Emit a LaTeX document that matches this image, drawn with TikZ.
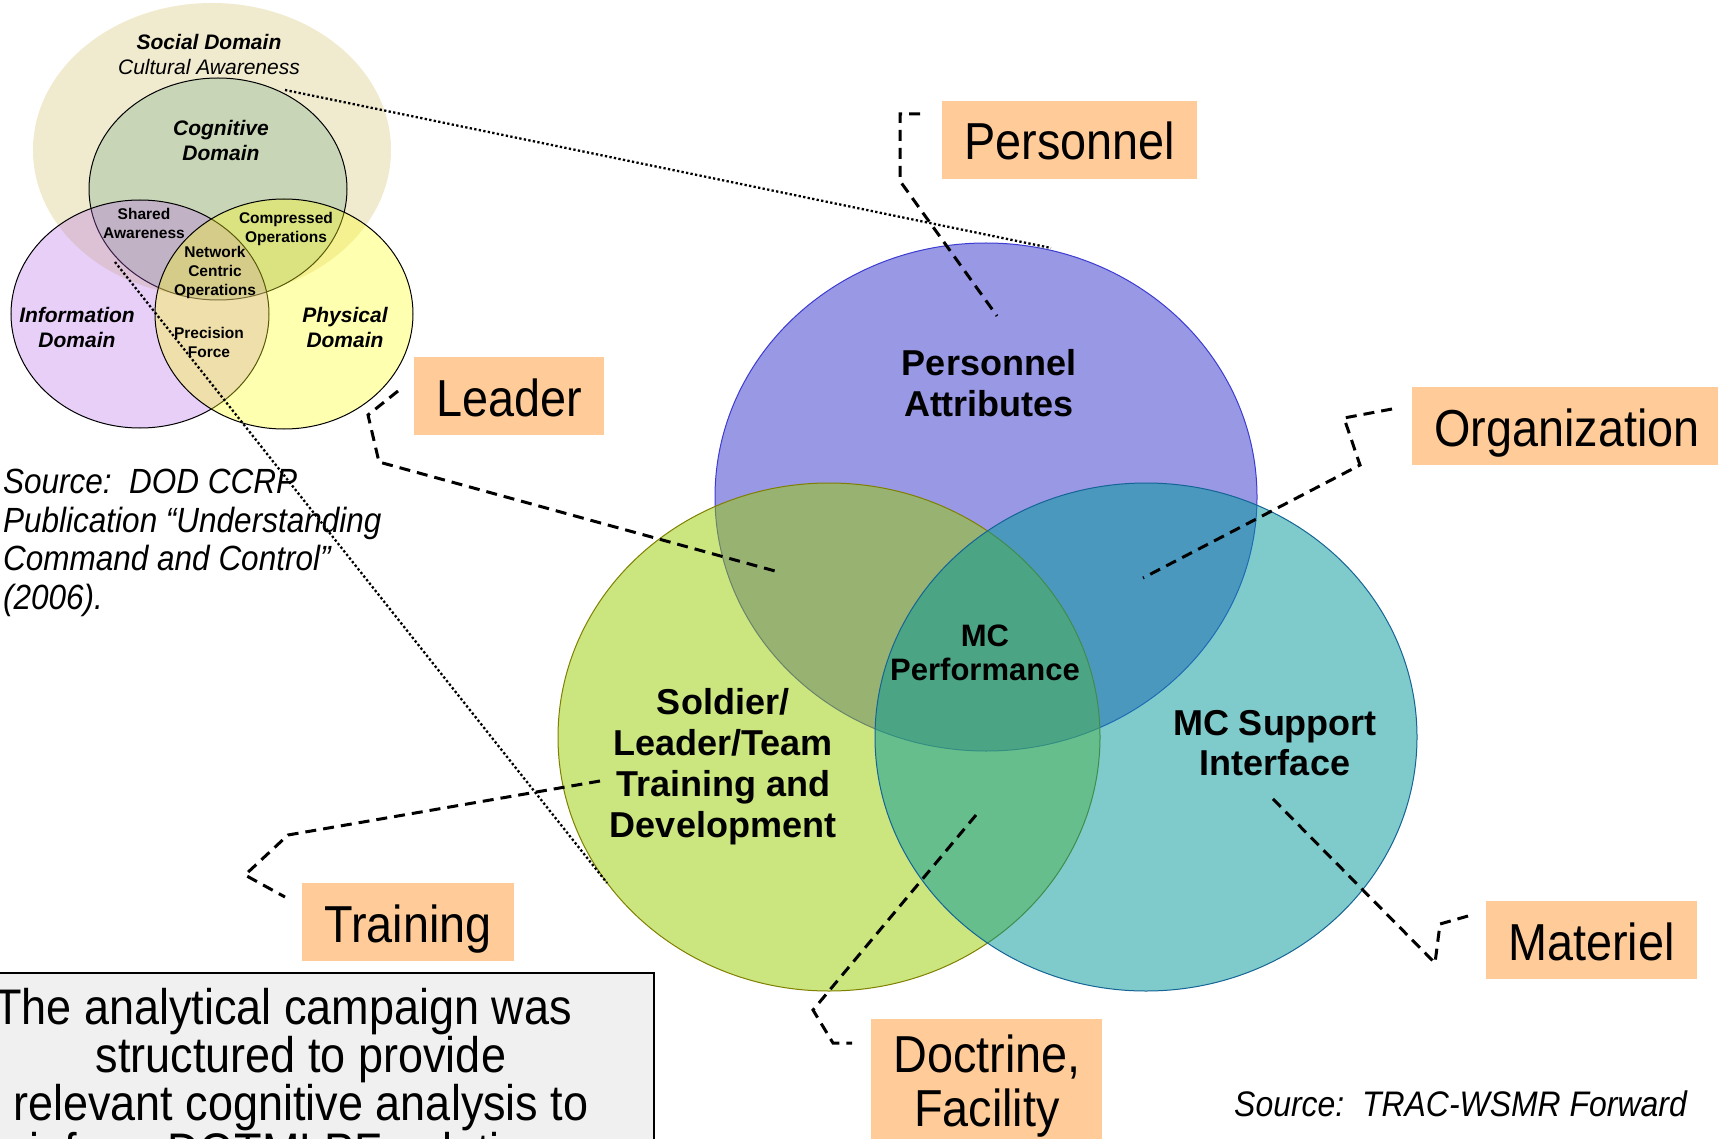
\documentclass[tikz,border=0pt]{standalone}
\usepackage{fontspec}
\setmainfont{Liberation Sans}
\newfontfamily\narrowfont{Liberation Sans}[FakeStretch=0.9, Ligatures=TeX]

\definecolor{peach}{RGB}{255,204,153}
\definecolor{social}{RGB}{240,235,206}
\definecolor{cogn}{RGB}{153,187,153}
\definecolor{infod}{RGB}{178,98,232}
\definecolor{physd}{RGB}{255,255,29}
\definecolor{persc}{RGB}{51,51,204}
\definecolor{persl}{RGB}{60,60,210}
\definecolor{trainc}{RGB}{153,204,0}
\definecolor{trainl}{RGB}{128,128,0}
\definecolor{suppc}{RGB}{0,153,153}
\definecolor{suppl}{RGB}{20,100,150}
\definecolor{boxgray}{RGB}{240,240,240}

\tikzset{
  lbl/.style={fill=peach, anchor=west, inner xsep=22pt, inner ysep=14pt,
    text height=45pt, text depth=5pt, font=\narrowfont\fontsize{52}{54}\selectfont},
  lead/.style={line width=3pt, dash pattern=on 11pt off 7pt},
  dotline/.style={line width=2.3pt, dash pattern=on 2.3pt off 2.3pt},
  bigtxt/.style={align=center, inner sep=0pt, font=\bfseries\fontsize{36}{41}\selectfont},
  domtxt/.style={align=center, inner sep=0pt, font=\bfseries\itshape\fontsize{21}{25}\selectfont},
  smalltxt/.style={align=center, inner sep=0pt, font=\bfseries\fontsize{15.5}{19}\selectfont}
}

\begin{document}
\begin{tikzpicture}[x=1pt, y=-1pt]

\useasboundingbox (0,0) rectangle (1718,1139);
\fill[white] (0,0) rectangle (1718,1139);

%\def\Rbig{271} for all three

\def\Rx{271}
\def\Ry{254}

% big venn
\filldraw[fill=persc, fill opacity=0.5, draw=persl, line width=1pt] (986,497) ellipse [x radius=\Rx, y radius=\Ry];
\filldraw[fill=trainc, fill opacity=0.5, draw=trainl, line width=1pt] (829,737) ellipse [x radius=\Rx, y radius=\Ry];
\filldraw[fill=suppc, fill opacity=0.5, draw=suppl, line width=1pt] (1146,737) ellipse [x radius=\Rx, y radius=\Ry];

\node[bigtxt] (attr) at (989,383) {Personnel\\Attributes};
\node[bigtxt] (sold) at (723,767) {Soldier/\\Leader/Team\\Training and\\Development};
\node[bigtxt, font=\bfseries\fontsize{31}{34}\selectfont] (perf) at (985,653) {MC\\Performance};
\node[bigtxt, font=\bfseries\fontsize{36}{40}\selectfont] (supp) at (1275,743) {MC Support\\Interface};

% small venn
\fill[social] (212,150) ellipse [x radius=179, y radius=147];
\filldraw[fill=cogn, fill opacity=0.45, line width=1pt] (218,189) ellipse [x radius=129, y radius=111];
\filldraw[fill=infod, fill opacity=0.3, line width=1pt] (140,314) ellipse [x radius=129, y radius=114];
\filldraw[fill=physd, fill opacity=0.35, line width=1pt] (284,314) ellipse [x radius=129, y radius=115];

\node[domtxt] (soc) at (209,42) {Social Domain};
\node[domtxt, font=\itshape\fontsize{21}{25}\selectfont] (cult) at (209,67) {Cultural Awareness};
\node[domtxt] (cog) at (221,140) {Cognitive\\Domain};
\node[domtxt] (inf) at (77,327) {Information\\Domain};
\node[domtxt] (phy) at (345,327) {Physical\\Domain};
\node[smalltxt] (shar) at (144,223) {Shared\\Awareness};
\node[smalltxt] (comp) at (286,229) {Compressed\\Operations};
\node[smalltxt] (nco) at (215,272) {Network\\Centric\\Operations};
\node[smalltxt] (prec) at (209,342) {Precision\\Force};

\node[anchor=west, align=left, inner sep=0pt, font=\narrowfont\itshape\fontsize{35}{38.5}\selectfont] (ccrp) at (3,543)
  {Source:\ \ DOD CCRP\\Publication “Understanding\\Command and Control”\\(2006).};
\node[anchor=west, inner sep=0pt, font=\narrowfont\itshape\fontsize{35.5}{38}\selectfont] (trac) at (1234,1104)
  {Source:\ \ TRAC-WSMR Forward};

% labels
\node[lbl] (pers) at (942,140) {Personnel};
\node[lbl] (lead) at (414,396) {Leader};
\node[lbl] (orga) at (1412,426) {Organization};
\node[lbl] (trai) at (302,922) {Training};
\node[lbl] (mate) at (1486,940) {Materiel};
\node[fill=peach, anchor=north west, align=center, inner xsep=22pt, inner ysep=16pt,
  font=\narrowfont\fontsize{52}{54}\selectfont] (doct) at (871,1019) {Doctrine,\\Facility};

% campaign box
\draw[fill=boxgray, line width=1.5pt] (-10,973) rectangle (654,1170);
\node[anchor=north, align=center, inner sep=0pt, font=\narrowfont\fontsize{50}{48}\selectfont] (camp) at (301,988)
  {The analytical campaign was\hspace*{36pt}\\structured to provide\\relevant cognitive analysis to\\inform DOTMLPF solutions};

% leader lines
\coordinate (p1) at (920,114);  \coordinate (p2) at (900,114);
\coordinate (p3) at (900,181);  \coordinate (p4) at (997,316);
\draw[lead] (p1) -- (p2) -- (p3) -- (p4);

\coordinate (l1) at (398,391);  \coordinate (l2) at (368,415);
\coordinate (l3) at (379,462);  \coordinate (l4) at (775,571);
\draw[lead] (l1) -- (l2) -- (l3) -- (l4);

\coordinate (o1) at (1392,409); \coordinate (o2) at (1344,418);
\coordinate (o3) at (1360,465); \coordinate (o4) at (1143,578);
\draw[lead] (o1) -- (o2) -- (o3) -- (o4);

\coordinate (t1) at (600,781);  \coordinate (t2) at (288,835);
\coordinate (t3) at (245,875);  \coordinate (t4) at (285,897);
\draw[lead] (t1) -- (t2) -- (t3) -- (t4);

\coordinate (m1) at (1468,916); \coordinate (m2) at (1440,924);
\coordinate (m3) at (1435,963); \coordinate (m4) at (1269,795);
\draw[lead] (m1) -- (m2) -- (m3) -- (m4);

\coordinate (d1) at (976,815);  \coordinate (d2) at (813,1010);
\coordinate (d3) at (833,1043); \coordinate (d4) at (852,1043);
\draw[lead] (d1) -- (d2) -- (d3) -- (d4);

% dotted links between the two pictures
\coordinate (s1) at (285,90);   \coordinate (s2) at (1051,248);
\coordinate (s3) at (115,262);  \coordinate (s4) at (607,883);
\draw[dotline] (s1) -- (s2);
\draw[dotline] (s3) -- (s4);

\end{tikzpicture}
\end{document}
